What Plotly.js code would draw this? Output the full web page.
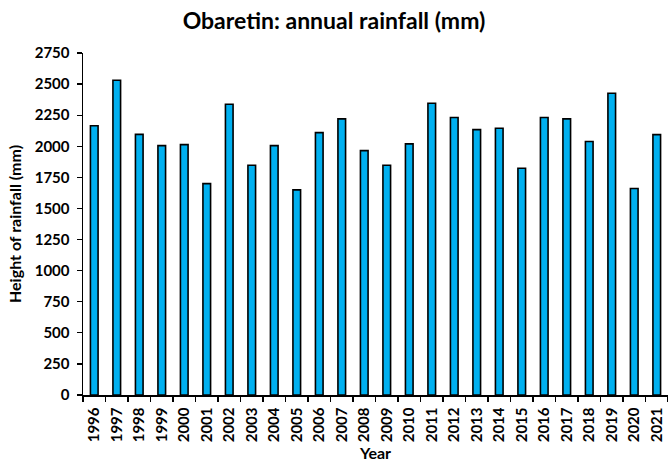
<!DOCTYPE html>
<html>
<head>
<meta charset="utf-8">
<script src="https://cdn.plot.ly/plotly-3.0.1.min.js"></script>
<style>html,body{margin:0;padding:0;background:#fff;}#chart{width:668px;height:469px;}</style>
</head>
<body>
<div id="chart"></div>
<script>
const years = ["1996","1997","1998","1999","2000","2001","2002","2003","2004","2005","2006","2007","2008","2009","2010","2011","2012","2013","2014","2015","2016","2017","2018","2019","2020","2021"];
const rainfall = [2165,2531,2096,2005,2013,1700,2338,1847,2005,1649,2110,2220,1965,1847,2019,2346,2231,2134,2145,1823,2231,2220,2038,2426,1660,2094];
const yTicks = [0,250,500,750,1000,1250,1500,1750,2000,2250,2500,2750];

const fontFam = "Lato, 'Open Sans', sans-serif";
const trace = {
  type: "bar",
  x: years,
  y: rainfall,
  width: 0.34,
  marker: {color: "#00B0F0", line: {color: "#000", width: 1.6}},
  hoverinfo: "x+y"
};
const layout = {
  width: 668, height: 469,
  margin: {l: 83, r: 0, t: 53, b: 74},
  paper_bgcolor: "#fff", plot_bgcolor: "#fff",
  showlegend: false,
  title: {text: "Obaretin: annual rainfall (mm)", font: {family: fontFam, size: 23, color: "#000", weight: "bold"}, x: 0.5, xanchor: "center", y: 0.955, yanchor: "middle"},
  xaxis: {
    type: "category", range: [-0.5, 25.5], fixedrange: true, automargin: false,
    showline: true, linecolor: "#000", linewidth: 1.5,
    ticks: "outside", tickson: "boundaries", ticklen: 5, tickwidth: 1.3, tickcolor: "#000",
    tickangle: -90, ticklabelstandoff: 5, tickfont: {family: fontFam, size: 15, color: "#000", weight: "bold"},
    showgrid: false, zeroline: false,
    title: {text: "Year", font: {family: fontFam, size: 16, color: "#000", weight: "bold"}, standoff: 6}
  },
  xaxis2: {
    overlaying: "x", anchor: "y", side: "bottom", type: "linear", range: [-0.5, 25.5],
    tick0: -0.5, dtick: 1, ticks: "inside", ticklen: 5, tickwidth: 1.3, tickcolor: "#000",
    showticklabels: false, showgrid: false, zeroline: false, showline: false, fixedrange: true
  },
  yaxis: {
    range: [0, 2750], tickvals: yTicks, ticktext: yTicks.map(String), fixedrange: true, automargin: false,
    showline: true, linecolor: "#000", linewidth: 1.5,
    ticks: "outside", ticklen: 5, tickwidth: 1.3, tickcolor: "#000", ticklabelstandoff: 4,
    tickfont: {family: fontFam, size: 15, color: "#000", weight: "bold"},
    showgrid: false, zeroline: false,
    title: {text: "Height of rainfall (mm)", font: {family: fontFam, size: 16, color: "#000", weight: "bold"}, standoff: 9}
  },
  yaxis2: {
    overlaying: "y", anchor: "x", side: "left", range: [0, 2750], tickvals: yTicks,
    ticks: "inside", ticklen: 5, tickwidth: 1.3, tickcolor: "#000",
    showticklabels: false, showgrid: false, zeroline: false, showline: false, fixedrange: true
  }
};
Plotly.newPlot("chart", [trace], layout, {displayModeBar: false, staticPlot: true});
</script>
</body>
</html>
